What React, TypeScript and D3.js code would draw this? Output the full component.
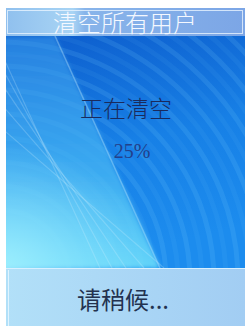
import React from "react";
import * as d3 from "d3";

const titleText = "清空所有用户";
const statusText = "正在清空";
const progressValues = [25];
const footerText = "请稍候...";

const W = 245;
const H = 326;

export default function App() {
  const radii = d3.range(70, 340, 12);
  const streaks = [0, 12, 26, 44, 64];
  return (
    <svg width={W} height={H} style={{ position: "fixed", left: 0, top: 0 }}>
      <defs>
        <linearGradient id="bg" x1="0" y1="0" x2="0.25" y2="1">
          <stop offset="0" stopColor="#0d5ccc" />
          <stop offset="0.55" stopColor="#1780e6" />
          <stop offset="1" stopColor="#1c8cee" />
        </linearGradient>
        <linearGradient id="lft" x1="0" y1="0" x2="0" y2="1">
          <stop offset="0" stopColor="#3a9cee" stopOpacity={0.55} />
          <stop offset="0.6" stopColor="#48b8f4" stopOpacity={0.75} />
          <stop offset="1" stopColor="#6adcfa" stopOpacity={0.9} />
        </linearGradient>
        <radialGradient id="glow" cx="0" cy="1" r="0.9">
          <stop offset="0" stopColor="#a8f4ff" stopOpacity={0.85} />
          <stop offset="1" stopColor="#a8f4ff" stopOpacity={0} />
        </radialGradient>
        <linearGradient id="tb" x1="0" y1="0" x2="1" y2="0">
          <stop offset="0" stopColor="#90c0ee" />
          <stop offset="0.28" stopColor="#a8d4f4" />
          <stop offset="0.33" stopColor="#88b4ea" />
          <stop offset="1" stopColor="#7ca6e6" />
        </linearGradient>
        <linearGradient id="fb" x1="0" y1="0" x2="1" y2="0">
          <stop offset="0" stopColor="#b2e0f8" />
          <stop offset="1" stopColor="#a2cdf3" />
        </linearGradient>
        <filter id="blur" x="-0.1" y="-0.1" width="1.2" height="1.2">
          <feGaussianBlur stdDeviation="2" />
        </filter>
        <clipPath id="clip">
          <rect x={6} y={36} width={W - 6} height={232} />
        </clipPath>
      </defs>
      <rect x={0} y={0} width={W} height={H} fill="#fff" />
      <g clipPath="url(#clip)">
        <rect x={6} y={36} width={W} height={232} fill="url(#bg)" />
        {radii.map((r, i) => (
          <circle key={r} cx={0} cy={280} r={r} fill="none" stroke="#7fd8ff" strokeWidth={5}
            strokeOpacity={i % 2 ? 0.07 : 0.14} />
        ))}
        <polygon points="0,36 55,36 160,268 0,268" fill="url(#lft)" filter="url(#blur)" />
        <rect x={0} y={130} width={170} height={140} fill="url(#glow)" />
        {streaks.map((s) => (
          <line key={s} x1={0} y1={50 + s * 1.2} x2={100 + s} y2={268}
            stroke="#dff8ff" strokeOpacity={0.22} strokeWidth={1.2} />
        ))}
        <line x1={55} y1={36} x2={160} y2={268} stroke="#c8f2ff" strokeOpacity={0.35} strokeWidth={1.5} />
      </g>
      <rect x={6} y={8} width={W - 6} height={28} fill="url(#tb)" />
      <rect x={7.5} y={10.5} width={W - 10} height={23} fill="none" stroke="#e8f4ff" strokeOpacity={0.8} />
      <text x={125} y={32} textAnchor="middle" fontFamily="Noto Sans CJK SC" fontWeight={300} fontSize={24} fill="#f4f8ff">
        {titleText}
      </text>
      <text x={126} y={117} textAnchor="middle" fontFamily="Noto Sans CJK SC" fontWeight={300} fontSize={23} fill="#1a2a5c">
        {statusText}
      </text>
      {progressValues.map((v) => (
        <text key={v} x={132} y={158} textAnchor="middle" fontFamily="'Liberation Serif', 'DejaVu Serif', serif" fontSize={20} fill="#23408a">
          {`${v}%`}
        </text>
      ))}
      <rect x={6} y={268} width={W - 6} height={H - 268} fill="url(#fb)" />
      <line x1={6} y1={268.5} x2={W} y2={268.5} stroke="#d8f0ff" />
      <line x1={8.5} y1={270} x2={8.5} y2={H} stroke="#e0f4ff" />
      <text x={123} y={309} textAnchor="middle" fontFamily="Noto Sans CJK SC" fontSize={24} fill="#23324f">
        {footerText}
      </text>
    </svg>
  );
}
